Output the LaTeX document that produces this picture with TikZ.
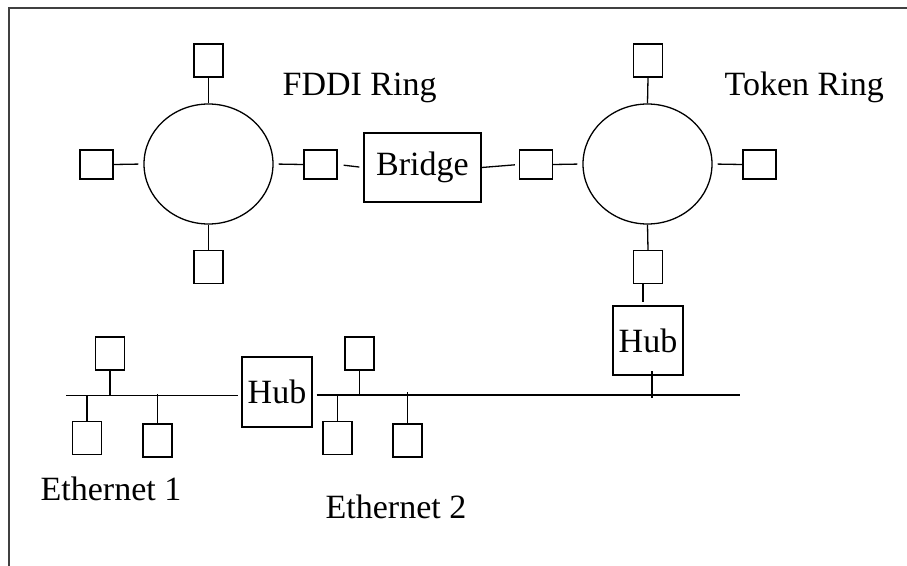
\documentclass[tikz,border=0pt]{standalone}
\usepackage{fontspec}
\setmainfont{Liberation Serif}
\usetikzlibrary{shapes.geometric}
\begin{document}
\begin{tikzpicture}[x=1pt,y=-1pt,line width=1.3pt,
  stv/.style={draw,rectangle,minimum width=29pt,minimum height=33pt,inner sep=0pt},
  sth/.style={draw,rectangle,minimum width=33pt,minimum height=29pt,inner sep=0pt},
  ring/.style={draw,ellipse,minimum width=129pt,minimum height=120pt,inner sep=0pt},
  boxnode/.style={draw,rectangle,inner sep=0pt,font=\fontsize{34}{40}\selectfont},
  lbl/.style={inner sep=0pt,anchor=base west,font=\fontsize{34}{40}\selectfont}]
\useasboundingbox (0,0) rectangle (907,565);
% frame
\draw[line width=1.5pt,black!75] (9,566) -- (9,8) -- (908,8);
% FDDI ring
\node[ring] (fddi) at (208.5,164) {};
\node[stv] (f1) at (208.5,60.5) {};
\node[sth] (f2) at (96.5,164.5) {};
\node[sth] (f3) at (320.5,164.5) {};
\node[stv] (f4) at (208.5,267) {};
\node[lbl] (fl) at (282,95) {FDDI Ring};
% Bridge
\node[boxnode,minimum width=117pt,minimum height=69pt] (br) at (422.5,167.5) {Bridge};
% Token ring
\node[ring] (tok) at (647.5,164) {};
\node[stv] (t1) at (648,60.5) {};
\node[sth] (t2) at (536,164.5) {};
\node[sth] (t3) at (759.5,164.5) {};
\node[stv] (t4) at (648,267) {};
\node[lbl] (tl) at (724,95) {Token Ring};
% Hubs
\node[boxnode,minimum width=70pt,minimum height=69pt] (hub2) at (648,340.5) {Hub};
\node[boxnode,minimum width=70pt,minimum height=70pt] (hub1) at (277,392) {Hub};
% Ethernet stations
\node[stv] (a1) at (110,353.5) {};
\node[stv] (a2) at (87,438) {};
\node[stv] (a3) at (157.5,440.5) {};
\node[stv] (b1) at (359.5,353.5) {};
\node[stv] (b2) at (337.5,438) {};
\node[stv] (b3) at (407.5,440.5) {};
\node[lbl] (e1) at (40,500) {Ethernet 1};
\node[lbl] (e2) at (325,518) {Ethernet 2};
% bus coordinates
\coordinate (e1L) at (66,395.5);
\coordinate (e2R) at (740,395);
\coordinate (h2top) at (652,371);
\coordinate (h2bot) at (652,398);
% ring connectors
\draw (fddi.north) -- (f1.south);
\draw (fddi.south) -- (f4.north);
\draw[shorten >=5pt] (f2.east) -- (fddi.west);
\draw[shorten <=5pt] (fddi.east) -- (f3.west);
\draw[shorten <=6pt,shorten >=4pt] (f3.east) -- (br.west);
\draw[shorten >=4pt] (br.east) -- (t2.west);
\draw[shorten >=5pt] (t2.east) -- (tok.west);
\draw[shorten <=5pt] (tok.east) -- (t3.west);
\draw (tok.north) -- (t1.south);
\draw (tok.south) -- (t4.north);
\draw[shorten >=3pt] ([xshift=-5pt]t4.south) -- ([xshift=-5pt]hub2.north);
\draw (h2top) -- (h2bot);
% ethernet buses
\draw[shorten >=3pt] (e1L) -- (hub1.west |- e1L);
\draw[shorten <=4pt] (hub1.east |- e2R) -- (e2R);
\draw (a1.south) -- (a1.south |- e1L);
\draw (a2.north) -- (a2.north |- e1L);
\draw (a3.north) -- ([yshift=2pt]a3.north |- e1L);
\draw (b1.south) -- (b1.south |- e2R);
\draw (b2.north) -- (b2.north |- e2R);
\draw (b3.north) -- ([yshift=3pt]b3.north |- e2R);
\end{tikzpicture}
\end{document}
